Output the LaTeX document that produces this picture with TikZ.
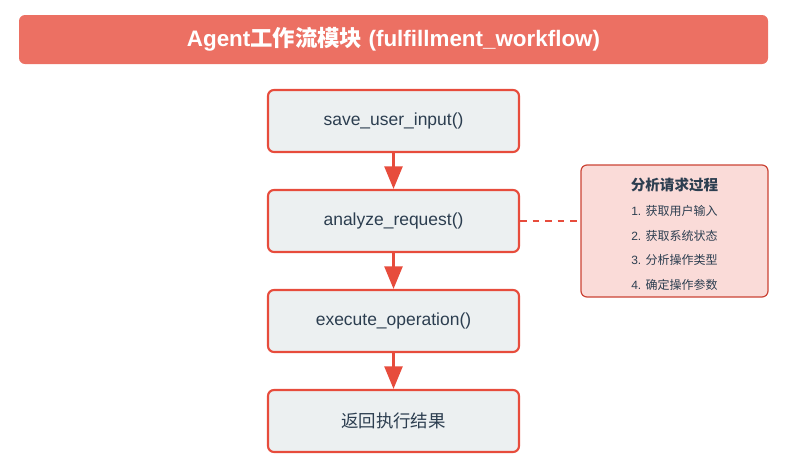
\documentclass[tikz,border=0pt]{standalone}
\usepackage{fontspec}
\setmainfont{Liberation Sans}
\newfontfamily\cjk{Noto Sans CJK SC}
\usetikzlibrary{arrows.meta}
\definecolor{titlefill}{HTML}{EC7063}
\definecolor{boxborder}{HTML}{E74C3C}
\definecolor{boxfill}{HTML}{ECF0F1}
\definecolor{notefill}{HTML}{FADBD8}
\definecolor{noteborder}{HTML}{CB4335}
\definecolor{txt}{HTML}{2C3E50}
\tikzset{
  stepbox/.style={draw=boxborder, fill=boxfill, line width=1.6pt, rounded corners=4.5pt,
    minimum width=188.25pt, minimum height=46.5pt, inner sep=0pt, text=txt,
    font=\fontsize{13.1pt}{15pt}\selectfont},
  titlebar/.style={fill=titlefill, rounded corners=4.5pt, minimum width=561.75pt,
    minimum height=36.75pt, inner sep=0pt, text=white,
    font=\fontsize{16.8pt}{19pt}\selectfont\bfseries},
  notebox/.style={draw=noteborder, fill=notefill, line width=0.9pt, rounded corners=4.5pt,
    minimum width=140.25pt, minimum height=99pt, inner sep=0pt},
  notetitle/.style={text=txt, inner sep=0pt, font=\fontsize{10.9pt}{12pt}\selectfont\bfseries\cjk},
  noteitem/.style={text=txt, inner sep=0pt, font=\fontsize{9pt}{11pt}\selectfont},
  flow/.style={draw=boxborder, line width=2pt, -{Triangle[length=17pt, width=13.5pt]}},
  link/.style={draw=boxborder, line width=1pt, dash pattern=on 5pt off 4.4pt}
}
\begin{document}
\begin{tikzpicture}[x=0.75pt, y=-0.75pt]
\useasboundingbox (0,0) rectangle (799,472);
\node[titlebar] (title) at (393.5,39.5) {Agent{\cjk 工作流模块} (fulfillment\_workflow)};
\node[stepbox] (b1) at (393.5,121) {save\_user\_input()};
\node[stepbox] (b2) at (393.5,221) {analyze\_request()};
\node[stepbox] (b3) at (393.5,321) {execute\_operation()};
\node[stepbox] (b4) at (393.5,421) {\cjk 返回执行结果};
\node[notebox] (note) at (674.5,231) {};
\node[notetitle] (nt) at (674.5,185) {分析请求过程};
\node[noteitem] (n1) at (674.5,211) {1. {\cjk 获取用户输入}};
\node[noteitem] (n2) at (674.5,236) {2. {\cjk 获取系统状态}};
\node[noteitem] (n3) at (674.5,260) {3. {\cjk 分析操作类型}};
\node[noteitem] (n4) at (674.5,285) {4. {\cjk 确定操作参数}};
\draw[flow] (b1.south) -- (b2.north);
\draw[flow] (b2.south) -- (b3.north);
\draw[flow] (b3.south) -- (b4.north);
\draw[link] (b2.east) -- (b2.east -| note.west);
\end{tikzpicture}
\end{document}
